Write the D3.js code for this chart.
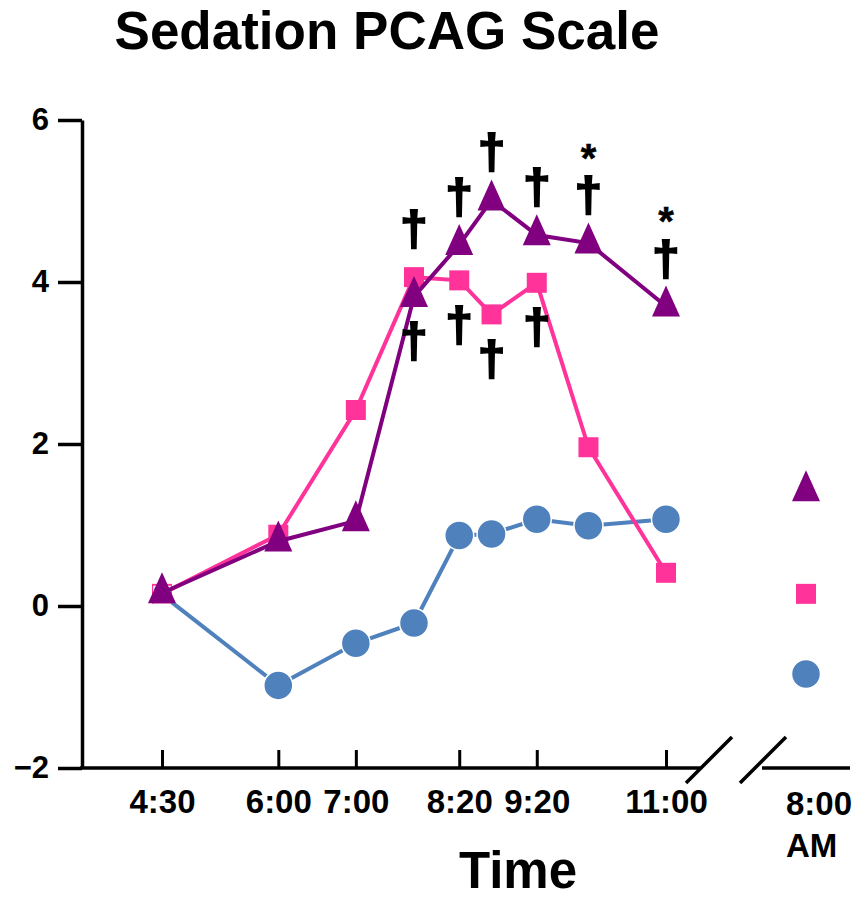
<!DOCTYPE html>
<html>
<head>
<meta charset="utf-8">
<script src="https://cdn.jsdelivr.net/npm/d3@7"></script>
<style>
  body { margin: 0; background: #fff; }
  svg text { font-family: "Liberation Sans", Arial, Helvetica, sans-serif; font-weight: bold; fill: #000; }
</style>
</head>
<body>
<div id="chart"></div>
<script>
// times of the measurements (minutes after midnight) and axis labels
const timeMinutes = [270, 360, 420, 465, 500, 525, 560, 600, 660];
const tickMinutes = [270, 360, 420, 500, 560, 660];
const tickLabels = ['4:30', '6:00', '7:00', '8:20', '9:20', '11:00'];
const morningLabel = ['8:00', 'AM'];
const yTicks = [-2, 0, 2, 4, 6];

// series values
const circleValues = [0.14, -0.98, -0.46, -0.21, 0.87, 0.89, 1.07, 0.99, 1.07];
const squareValues = [0.15, 0.88, 2.42, 4.06, 4.02, 3.60, 3.99, 1.96, 0.41];
const triangleValues = [0.16, 0.80, 1.05, 3.82, 4.46, 5.01, 4.58, 4.48, 3.70];
const morningCircle = -0.84;
const morningSquare = 0.15;
const morningTriangle = 1.42;

// significance marks
const triangleDaggers = ['', '', '', '†', '†', '†', '†', '†', '†'];
const triangleStars = ['', '', '', '', '', '', '', '*', '*'];
const squareDaggers = ['', '', '', '†', '†', '†', '†', '', ''];

const blue = '#4f81bd', pink = '#ff3399', purple = '#800080';

var width = 858,
    height = 898;

var svg = d3.select('#chart')
    .append('svg')
    .attr('width', width)
    .attr('height', height);

var x = d3.scaleLinear().domain([270, 660]).range([162, 666]);
var y = d3.scaleLinear().domain([-2, 6]).range([768, 120]);

var breakStart = x(660) + 34,
    breakEnd = breakStart + 62;

var xMorning = d3.scalePoint().domain(['8:00 AM']).range([breakEnd, 850]);

// title
svg.append('text')
    .attr('x', 387).attr('y', 49)
    .attr('text-anchor', 'middle')
    .style('font-size', '53px')
    .text('Sedation PCAG Scale');

// y axis
var yAxis = d3.axisLeft(y)
    .tickValues(yTicks)
    .tickSize(24)
    .tickSizeOuter(0)
    .tickPadding(9);

var gy = svg.append('g')
    .attr('transform', 'translate(82,0)')
    .call(yAxis);
gy.selectAll('path, line').attr('stroke', '#000').attr('stroke-width', 3.5);
gy.selectAll('text').style('font-size', '31px').attr('font-family', null);

// x axis
var xAxis = d3.axisBottom(x)
    .tickValues(tickMinutes)
    .tickFormat((d, i) => tickLabels[i])
    .tickSizeInner(-18)
    .tickSizeOuter(0)
    .tickPadding(22);

var gx = svg.append('g')
    .attr('transform', 'translate(0,' + y(-2) + ')')
    .call(xAxis);
gx.select('.domain').remove();
gx.selectAll('line').attr('stroke', '#000').attr('stroke-width', 3);
gx.selectAll('text').style('font-size', '33px').attr('font-family', null);

svg.append('line')
    .attr('x1', 80).attr('x2', breakStart)
    .attr('y1', y(-2)).attr('y2', y(-2))
    .attr('stroke', '#000').attr('stroke-width', 3.5);
svg.append('line')
    .attr('x1', breakEnd).attr('x2', 850)
    .attr('y1', y(-2)).attr('y2', y(-2))
    .attr('stroke', '#000').attr('stroke-width', 3.5);

// axis break slashes
[breakStart, breakEnd - 8].forEach(function(bx) {
  svg.append('line')
      .attr('x1', bx - 14).attr('y1', y(-2) + 15)
      .attr('x2', bx + 32).attr('y2', y(-2) - 31)
      .attr('stroke', '#000').attr('stroke-width', 3.5);
});

// morning label
svg.append('text')
    .attr('x', xMorning('8:00 AM') - 20).attr('y', 815)
    .style('font-size', '33px')
    .text(morningLabel[0]);
svg.append('text')
    .attr('x', xMorning('8:00 AM') - 20).attr('y', 857)
    .style('font-size', '33px')
    .text(morningLabel[1]);

// axis title
svg.append('text')
    .attr('x', 518).attr('y', 888)
    .attr('text-anchor', 'middle')
    .style('font-size', '51px')
    .text('Time');

// lines
var line = d3.line()
    .x((d, i) => x(timeMinutes[i]))
    .y((d) => y(d));

var triPath = 'M0,-20.7L14,10.3L-14,10.3Z';
var square = d3.symbol().type(d3.symbolSquare).size(400);

// blue series
svg.append('path')
    .attr('d', line(circleValues))
    .attr('fill', 'none').attr('stroke', blue).attr('stroke-width', 4);

// pink series
svg.append('path')
    .attr('d', line(squareValues))
    .attr('fill', 'none').attr('stroke', pink).attr('stroke-width', 4);

svg.selectAll('.sq')
    .data(squareValues.concat([morningSquare]))
    .enter()
    .append('path')
    .attr('class', 'sq')
    .attr('d', square)
    .attr('transform', (d, i) => 'translate(' + (i < timeMinutes.length ? x(timeMinutes[i]) : xMorning('8:00 AM')) + ',' + y(d) + ')')
    .attr('fill', pink);

svg.selectAll('.ci')
    .data(circleValues.concat([morningCircle]))
    .enter()
    .append('path')
    .attr('class', 'ci')
    .attr('d', (d, i) => i === 0 ? d3.symbol().type(d3.symbolSquare).size(260)() : d3.symbol().type(d3.symbolCircle).size(Math.PI * 14.5 * 14.5)())
    .attr('transform', (d, i) => 'translate(' + (i < timeMinutes.length ? x(timeMinutes[i]) : xMorning('8:00 AM')) + ',' + y(d) + ')')
    .attr('fill', blue)
    .attr('stroke', '#fff').attr('stroke-width', 1.5);

// purple series
svg.append('path')
    .attr('d', line(triangleValues))
    .attr('fill', 'none').attr('stroke', purple).attr('stroke-width', 4);

svg.selectAll('.tr')
    .data(triangleValues.concat([morningTriangle]))
    .enter()
    .append('path')
    .attr('class', 'tr')
    .attr('d', triPath)
    .attr('transform', (d, i) => 'translate(' + (i < timeMinutes.length ? x(timeMinutes[i]) : xMorning('8:00 AM')) + ',' + y(d) + ')')
    .attr('fill', purple);

// significance marks
function mark(tx, ty, symbol, size, dy, sw) {
  svg.append('text')
      .attr('x', tx).attr('y', ty)
      .attr('dy', dy)
      .attr('text-anchor', 'middle')
      .style('font-size', size)
      .style('stroke', '#000')
      .style('stroke-width', sw)
      .text(symbol);
}

timeMinutes.forEach(function(t, i) {
  var top = Math.min(y(triangleValues[i]), y(squareValues[i])),
      bottom = Math.max(y(triangleValues[i]), y(squareValues[i]));
  if (triangleDaggers[i]) mark(x(t), top - 45, triangleDaggers[i], '49px', '0.27em', 2);
  if (triangleStars[i]) mark(x(t), top - 94, triangleStars[i], '40px', '0.57em', 0.5);
  if (squareDaggers[i]) mark(x(t), bottom + 47, squareDaggers[i], '49px', '0.27em', 2);
});
</script>
</body>
</html>
